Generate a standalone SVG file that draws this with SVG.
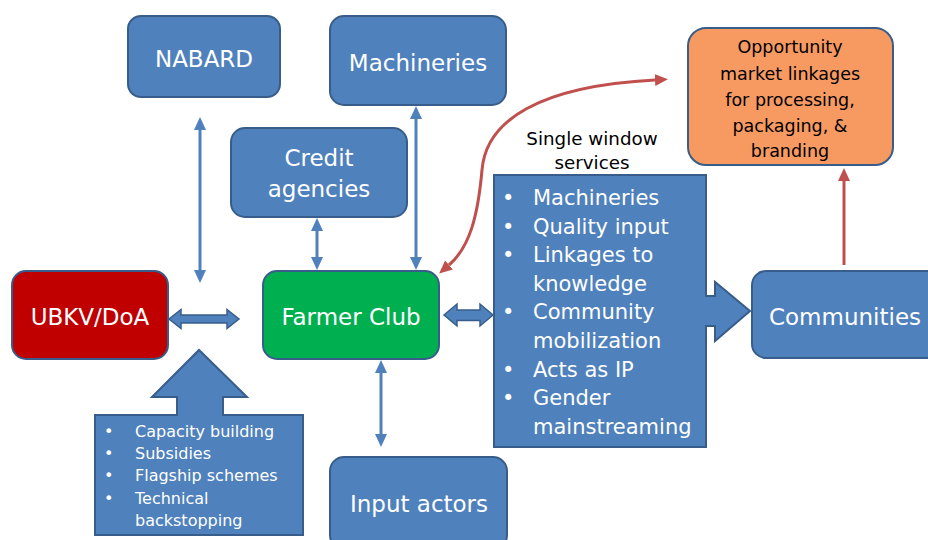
<svg xmlns="http://www.w3.org/2000/svg" width="928" height="540" viewBox="0 0 928 540">
  <style>
    .box { fill: #4F81BD; stroke: #385D8A; stroke-width: 2; }
    .lbl { font-family: "DejaVu Sans", Verdana, sans-serif; fill: #FFFFFF; text-anchor: middle; }
    .big { font-size: 23px; }
    .lst { font-family: "DejaVu Sans", Verdana, sans-serif; fill: #FFFFFF; }
    .dark { font-family: "DejaVu Sans", Verdana, sans-serif; fill: #000000; text-anchor: middle; }
    .thin { fill: none; stroke: #4F81BD; stroke-width: 3; }
    .red { fill: none; stroke: #C0504D; stroke-width: 3; }
    .blk { fill: #4F81BD; stroke: #385D8A; stroke-width: 1.5; }
  </style>
  <defs>
    <marker id="hb" markerUnits="userSpaceOnUse" markerWidth="13" markerHeight="12" viewBox="0 0 13 12" refX="0" refY="6" orient="auto-start-reverse">
      <path d="M0,0 L13,6 L0,12 Z" fill="#4F81BD"/>
    </marker>
    <marker id="hr" markerUnits="userSpaceOnUse" markerWidth="13" markerHeight="12" viewBox="0 0 13 12" refX="0" refY="6" orient="auto-start-reverse">
      <path d="M0,0 L13,6 L0,12 Z" fill="#C0504D"/>
    </marker>
  </defs>

  <!-- connectors -->
  <g id="connectors">
    <path class="thin" d="M200,130 V270" marker-start="url(#hb)" marker-end="url(#hb)"/>
    <path class="thin" d="M317,231 V257" marker-start="url(#hb)" marker-end="url(#hb)"/>
    <path class="thin" d="M416,119 V257" marker-start="url(#hb)" marker-end="url(#hb)"/>
    <path class="thin" d="M381,373 V434" marker-start="url(#hb)" marker-end="url(#hb)"/>
    <path class="red" d="M449,265 C470,247 478,215 482,170 C486,120 540,86 655,80" marker-start="url(#hr)" marker-end="url(#hr)"/>
    <path class="red" d="M844,265 V181" marker-end="url(#hr)"/>
    <polygon class="blk" points="169,319 181,309.5 181,315 227,315 227,309.5 239,319 227,328.5 227,323 181,323 181,328.5"/>
    <polygon class="blk" points="444,315 457,304 457,310 480,310 480,304 493,315 480,326 480,320.5 457,320.5 457,326"/>
  </g>

  <g id="nabard">
    <rect class="box" x="128" y="16" width="152" height="81" rx="13"/>
    <text class="lbl big" x="204" y="67">NABARD</text>
  </g>

  <g id="machineries">
    <rect class="box" x="330" y="16" width="176" height="89" rx="14"/>
    <text class="lbl big" x="418" y="71">Machineries</text>
  </g>

  <g id="credit">
    <rect class="box" x="231" y="128" width="176" height="89" rx="14"/>
    <text class="lbl big" x="319" y="166">Credit</text>
    <text class="lbl big" x="319" y="197">agencies</text>
  </g>

  <g id="ubkv">
    <rect x="12" y="271" width="156" height="88" rx="14" fill="#C00000" stroke="#385D8A" stroke-width="2"/>
    <text class="lbl big" x="90" y="325">UBKV/DoA</text>
  </g>

  <g id="farmer-club">
    <rect x="263" y="271" width="176" height="88" rx="14" fill="#00B050" stroke="#385D8A" stroke-width="2"/>
    <text class="lbl big" x="351" y="325">Farmer Club</text>
  </g>

  <g id="input-actors">
    <rect class="box" x="330" y="457" width="177" height="92" rx="14"/>
    <text class="lbl big" x="419" y="512">Input actors</text>
  </g>

  <g id="communities">
    <rect class="box" x="752" y="271" width="190" height="87" rx="14"/>
    <text class="lbl big" x="845" y="325">Communities</text>
  </g>

  <g id="opportunity">
    <rect x="688" y="28" width="205" height="137" rx="18" fill="#F79A62" stroke="#385D8A" stroke-width="2"/>
    <g class="dark" font-size="17.5">
      <text x="790" y="53">Opportunity</text>
      <text x="790" y="80">market linkages</text>
      <text x="790" y="106">for processing,</text>
      <text x="790" y="132">packaging, &amp;</text>
      <text x="790" y="157">branding</text>
    </g>
  </g>

  <g id="support">
    <path class="box" d="M95,415 H177 V397 H152 L199,350 L247,397 H223 V415 H303 V535 H95 Z"/>
    <g class="lst" font-size="16">
      <text x="104" y="437">•</text><text x="135" y="437">Capacity building</text>
      <text x="104" y="459">•</text><text x="135" y="459">Subsidies</text>
      <text x="104" y="481">•</text><text x="135" y="481">Flagship schemes</text>
      <text x="104" y="504">•</text><text x="135" y="504">Technical</text>
      <text x="135" y="526">backstopping</text>
    </g>
  </g>

  <g id="services">
    <text class="dark" font-size="18.3" x="592" y="145">Single window</text>
    <text class="dark" font-size="18.3" x="592" y="169">services</text>
    <path class="box" d="M494,175 H706 V296 H715 V282 L750,311 L715,341 V326 H706 V447 H494 Z"/>
    <g class="lst" font-size="21">
      <text x="502" y="205">•</text><text x="533" y="205">Machineries</text>
      <text x="502" y="234">•</text><text x="533" y="234">Quality input</text>
      <text x="502" y="262">•</text><text x="533" y="262">Linkages to</text>
      <text x="533" y="291">knowledge</text>
      <text x="502" y="319">•</text><text x="533" y="319">Community</text>
      <text x="533" y="348">mobilization</text>
      <text x="502" y="377">•</text><text x="533" y="377">Acts as IP</text>
      <text x="502" y="405">•</text><text x="533" y="405">Gender</text>
      <text x="533" y="434">mainstreaming</text>
    </g>
  </g>
</svg>
